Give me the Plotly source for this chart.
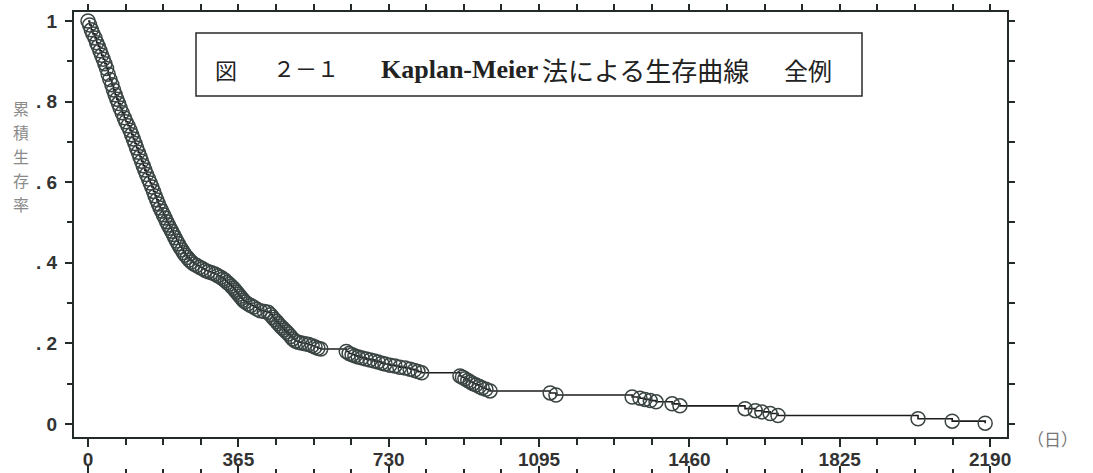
import plotly.graph_objects as go

# ---- data ----
days = [0, 4, 8, 12, 17, 21, 25, 29, 33, 37, 41, 45, 49, 53, 58, 62, 66, 70, 74, 78,
        83, 88, 92, 97, 102, 106, 110, 114, 118, 122, 126, 130, 134, 138, 142, 147, 151,
        155, 159, 163, 167, 171, 175, 179, 183, 187, 191, 195, 199, 203, 207, 211, 215,
        219, 223, 228, 232, 236, 241, 246, 251, 257, 264, 271, 278, 285, 292, 300, 308,
        315, 322, 328, 333, 338, 343, 348, 353, 357, 361, 365, 369, 373, 377, 381, 388,
        395, 402, 410, 418, 428, 437, 443, 448, 453, 458, 462, 467, 472, 477, 482, 487,
        492, 497, 503, 510, 518, 527, 536, 544, 551, 558, 565, 627, 634, 641, 648, 656,
        665, 675, 685, 695, 704, 713, 721, 733, 745, 757, 770, 782, 792, 801, 810, 903,
        909, 915, 922, 928, 935, 942, 950, 957, 966, 976, 1122, 1136, 1321, 1340, 1352,
        1365, 1379, 1418, 1437, 1595, 1620, 1636, 1656, 1675, 2015, 2098, 2178]
survival = [1.0, 0.99, 0.978, 0.968, 0.958, 0.946, 0.937, 0.926, 0.915, 0.905, 0.894,
            0.882, 0.868, 0.855, 0.842, 0.829, 0.817, 0.806, 0.795, 0.784, 0.772, 0.760,
            0.750, 0.740, 0.729, 0.718, 0.707, 0.696, 0.685, 0.674, 0.663, 0.652, 0.641,
            0.630, 0.619, 0.608, 0.598, 0.588, 0.577, 0.566, 0.556, 0.546, 0.536, 0.528,
            0.519, 0.511, 0.502, 0.494, 0.486, 0.478, 0.470, 0.462, 0.454, 0.447, 0.439,
            0.432, 0.425, 0.419, 0.413, 0.407, 0.402, 0.397, 0.393, 0.389, 0.385, 0.381,
            0.378, 0.375, 0.372, 0.368, 0.364, 0.360, 0.356, 0.351, 0.347, 0.342, 0.337,
            0.332, 0.327, 0.322, 0.317, 0.312, 0.307, 0.303, 0.298, 0.294, 0.290, 0.285,
            0.281, 0.279, 0.277, 0.271, 0.265, 0.259, 0.254, 0.249, 0.243, 0.238, 0.233,
            0.228, 0.223, 0.217, 0.211, 0.206, 0.203, 0.201, 0.199, 0.197, 0.194, 0.191,
            0.188, 0.186, 0.180, 0.175, 0.172, 0.169, 0.166, 0.164, 0.161, 0.159, 0.156,
            0.154, 0.151, 0.149, 0.146, 0.144, 0.141, 0.139, 0.136, 0.133, 0.130, 0.127,
            0.119, 0.116, 0.112, 0.108, 0.104, 0.100, 0.097, 0.093, 0.089, 0.086, 0.082,
            0.077, 0.072, 0.067, 0.064, 0.061, 0.058, 0.055, 0.050, 0.045, 0.038, 0.033,
            0.030, 0.026, 0.021, 0.013, 0.007, 0.002]

x_tick_vals = [0, 365, 730, 1095, 1460, 1825, 2190]
x_tick_text = ["0", "365", "730", "1095", "1460", "1825", "2190"]
y_tick_vals = [0, 0.2, 0.4, 0.6, 0.8, 1.0]
y_tick_text = ["0", ". 2", ". 4", ". 6", ". 8", "1"]

# title pieces: (text, centre x px, font family, size)
title_parts = [
    ("図", 226, "Noto Sans CJK JP", 22),
    ("２－１", 306, "Liberation Serif, Noto Sans CJK JP", 22),
    ("<b>Kaplan-Meier</b>", 459, "Liberation Serif", 26),
    ("法による生存曲線", 645, "Noto Sans CJK JP", 26),
    ("全例", 808, "Noto Sans CJK JP", 24),
]
y_title_chars = ["累", "積", "生", "存", "率"]
x_unit = "（日）"

# ---- layout geometry (pixels) ----
W, H = 1093, 473
L, R, T = 74, 1007, 12
B_AXIS = 437
plot_h = H - T


def px(xp):
    return (xp - L) / (R - L)


def py(yp):
    return (H - yp) / plot_h


AX = "#232a2a"
TXT = "#333333"
LBL_FONT = dict(family="Liberation Sans, Arial", size=19, color=TXT, weight="bold")
XR = [-34, 2231]
YR = [-0.0323, 1.0223]

fig = go.Figure()
fig.add_trace(go.Scatter(
    x=days, y=survival, mode="lines+markers",
    line=dict(color="#1c1c1c", width=1.6, shape="hv"),
    marker=dict(symbol="circle-open", size=14, color="#3a4543", line=dict(width=1.5)),
    xaxis="x", yaxis="y", showlegend=False, hoverinfo="skip",
))

fig.update_layout(
    width=W, height=H,
    margin=dict(l=L, r=W - R, t=T, b=0, pad=0),
    paper_bgcolor="white", plot_bgcolor="white",
    showlegend=False,
    xaxis=dict(
        domain=[0, 1], range=XR, anchor="y",
        showline=True, linecolor=AX, linewidth=2, showgrid=False, zeroline=False,
        tickvals=x_tick_vals, ticktext=x_tick_text, ticks="outside", ticklen=8,
        tickwidth=2, tickcolor=AX, tickfont=LBL_FONT, ticklabelstandoff=-4,
        minor=dict(dtick=91.25, tick0=0, ticks="outside", ticklen=6, tickwidth=2,
                   tickcolor=AX, showgrid=False),
    ),
    yaxis=dict(
        domain=[py(B_AXIS), 1], range=YR, anchor="x",
        showline=True, linecolor=AX, linewidth=2, showgrid=False, zeroline=False,
        tickvals=y_tick_vals, ticktext=y_tick_text, ticks="outside", ticklen=7,
        tickwidth=2, tickcolor=AX, tickfont=LBL_FONT, ticklabelstandoff=4,
        minor=dict(dtick=0.1, tick0=0, ticks="outside", ticklen=5, tickwidth=2,
                   tickcolor=AX, showgrid=False),
    ),
    xaxis2=dict(
        range=XR, overlaying="x", side="top", anchor="y",
        showline=True, linecolor=AX, linewidth=2, showgrid=False, zeroline=False,
        tick0=0, dtick=91.25, ticks="outside", ticklen=6, tickwidth=2, tickcolor=AX,
        showticklabels=False,
    ),
    yaxis2=dict(
        range=YR, overlaying="y", side="right", anchor="x",
        showline=True, linecolor=AX, linewidth=2, showgrid=False, zeroline=False,
        tick0=0, dtick=0.1, ticks="outside", ticklen=6, tickwidth=2, tickcolor=AX,
        showticklabels=False,
    ),
    xaxis3=dict(
        range=XR, overlaying="x", anchor="free", position=0,
        showline=False, showgrid=False, zeroline=False,
        tickvals=x_tick_vals, ticks="inside", ticklen=7, tickwidth=2, tickcolor=AX,
        showticklabels=False,
        minor=dict(dtick=91.25, tick0=0, ticks="inside", ticklen=4, tickwidth=2,
                   tickcolor=AX, showgrid=False),
    ),
)

# invisible helper traces to activate the extra axes
fig.add_trace(go.Scatter(x=[None], y=[None], xaxis="x2", yaxis="y2", showlegend=False))
fig.add_trace(go.Scatter(x=[None], y=[None], xaxis="x3", yaxis="y", showlegend=False))

# title box
fig.add_shape(type="rect", xref="paper", yref="paper",
              x0=px(196), x1=px(862), y0=py(96), y1=py(33),
              line=dict(color="#2a2a2a", width=1.5), fillcolor="rgba(0,0,0,0)")
for txt, cx, fam, size in title_parts:
    fig.add_annotation(xref="paper", yref="paper", x=px(cx), y=py(69),
                       text=txt, showarrow=False, xanchor="center", yanchor="middle",
                       font=dict(family=fam, size=size, color="#222222"))

# y-axis title (vertical stacked characters)
for i, ch in enumerate(y_title_chars):
    fig.add_annotation(xref="paper", yref="paper", x=px(21), y=py(108 + 24 * i),
                       text=ch, showarrow=False, xanchor="center", yanchor="middle",
                       font=dict(family="Noto Sans CJK JP", size=16, color="#8a8a8a"))

# unit label
fig.add_annotation(xref="paper", yref="paper", x=px(1052), y=py(438),
                   text=x_unit, showarrow=False, xanchor="center", yanchor="middle",
                   font=dict(family="Noto Sans CJK JP", size=17, color="#777777"))

fig.write_html("out.html")
